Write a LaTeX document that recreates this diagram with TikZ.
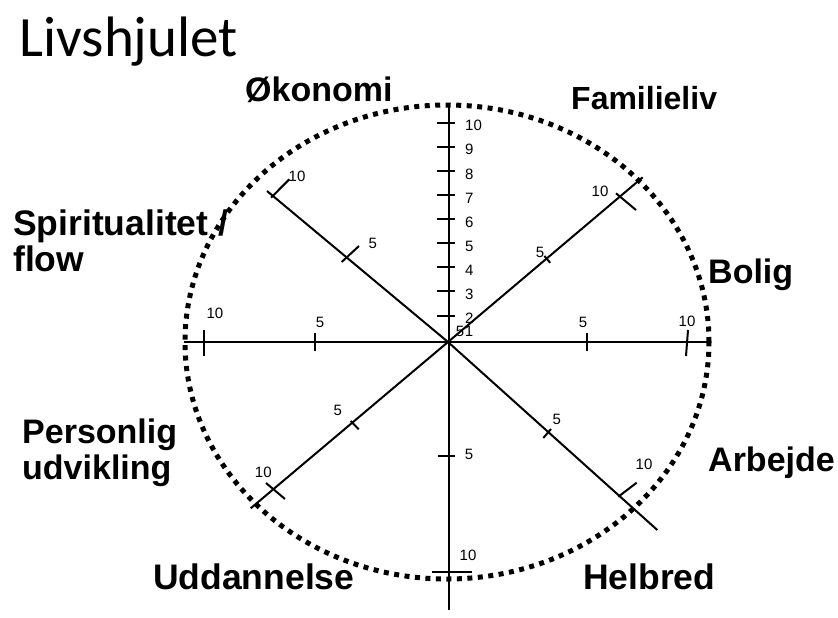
\documentclass[tikz,border=0pt]{standalone}
\usepackage{fontspec}
\setmainfont{Liberation Sans}
\newfontfamily\titlefont{Carlito}
\usetikzlibrary{positioning}
\tikzset{
  axis/.style={line width=2pt,draw=black},
  tic/.style={line width=2pt,draw=black},
  wheel/.style={line width=5pt,dash pattern=on 5pt off 5.5pt},
  lbl/.style={inner sep=0pt,font=\fontsize{34}{36}\selectfont\bfseries,align=left},
  biglbl/.style={lbl,font=\fontsize{35.5}{36}\selectfont\bfseries},
  num/.style={inner sep=0pt,font=\fontsize{15}{15}\selectfont},
}

\begin{document}
\begin{tikzpicture}[x=1pt,y=-1pt]
\useasboundingbox (0,0) rectangle (838,618);
\coordinate (c) at (448,342);
\draw[wheel] (447,342) ellipse [x radius=262pt,y radius=237pt];
\draw[axis] (448.5,103) -- (448.5,610);
\draw[axis] (184,342) -- (709,342);
\draw[axis] (c) -- (267,191);
\draw[axis] (c) -- (642.7,177.3);
\draw[axis] (c) -- (250.7,508.3);
\draw[axis] (c) -- (657.3,530);
\foreach \v [count=\i from 0] in {10,9,...,2} {
  \draw[tic] (437,122.7+24.1*\i) -- (455,122.7+24.1*\i);
  \node[num,anchor=west] (v\v) at (465,125.7+24.1*\i) {\v};
}
\node[num] (v1) at (469,331) {1};
\node[num] (c5) at (460,331) {5};
\draw[tic] (438,456) -- (455,456);
\draw[tic] (432,572) -- (472,572);
\node[num] (s5) at (469,454) {5};
\node[num] (s10) at (468,555) {10};
\draw[tic] (204,330) -- (204,356);
\draw[tic] (315,333) -- (315,351);
\draw[tic] (587,333) -- (587,351);
\draw[tic] (688,330) -- (686,356);
\node[num] (w10) at (215,313) {10};
\node[num] (w5) at (320,322) {5};
\node[num] (e5) at (583,322) {5};
\node[num] (e10) at (687,321) {10};
\draw[tic] (341.7,262) -- (359,246);
\draw[tic] (271,197.7) -- (289.3,179.3);
\node[num] (nw5) at (372.7,243) {5};
\node[num] (nw10) at (297,176) {10};
\draw[tic] (544.4,256) -- (550.2,262.8);
\draw[tic] (616,193.3) -- (636,210);
\node[num] (ne5) at (540,252) {5};
\node[num] (ne10) at (600,191) {10};
\draw[tic] (266,483) -- (285,499);
\draw[tic] (350.7,421) -- (358.7,429.3);
\node[num] (sw5) at (337.7,410) {5};
\node[num] (sw10) at (263.3,472) {10};
\draw[tic] (543.3,438) -- (551,429);
\draw[tic] (618.3,496.7) -- (636.7,482.7);
\node[num] (se5) at (556.7,419) {5};
\node[num] (se10) at (644,464) {10};
\node[inner sep=0pt,anchor=base west,font=\titlefont\fontsize{57}{60}\selectfont] (title) at (19,57) {Livshjulet};
\node[lbl,anchor=base west] (okonomi) at (245,101.7) {Økonomi};
\node[lbl,anchor=base west,font=\fontsize{32}{36}\selectfont\bfseries] (familie) at (571,110) {Familieliv};
\node[biglbl,anchor=base west] (spirit) at (13,271.7) {Spiritualitet /\\flow};
\node[lbl,anchor=base west] (bolig) at (708,283.3) {Bolig};
\node[lbl,anchor=base west] (personlig) at (22,479) {Personlig\\udvikling};
\node[lbl,anchor=base west] (arbejde) at (708,471.7) {Arbejde};
\node[biglbl,anchor=base west] (uddannelse) at (153,589) {Uddannelse};
\node[biglbl,anchor=base west] (helbred) at (583,589) {Helbred};
\end{tikzpicture}
\end{document}
